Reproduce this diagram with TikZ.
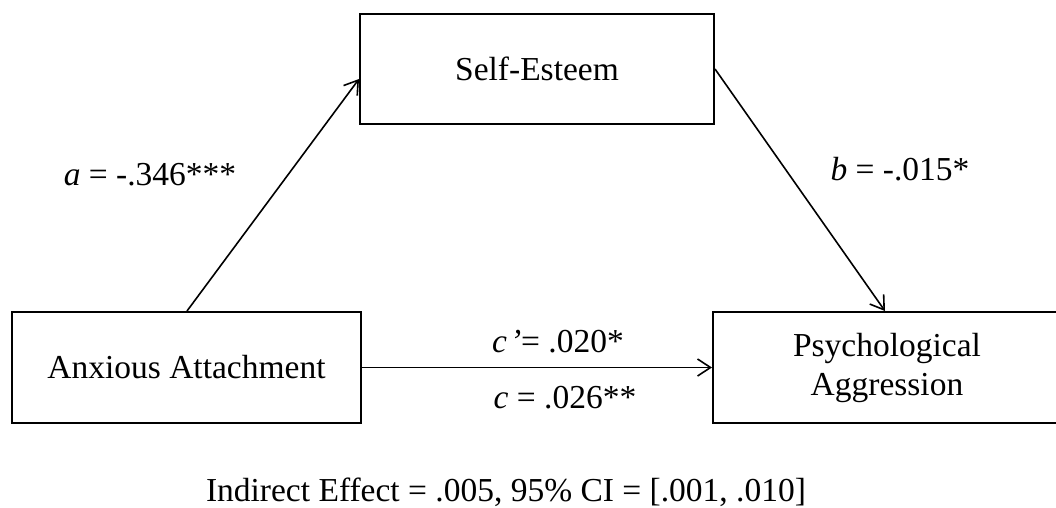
\documentclass[tikz,border=0pt]{standalone}
\usepackage{fontspec}
\setmainfont{Liberation Serif}
\usetikzlibrary{arrows.meta,calc}
\begin{document}
\begin{tikzpicture}[x=1pt,y=-1pt,
  box/.style={draw,line width=2pt,rectangle,inner sep=0pt,align=center,
    font=\fontsize{33.5}{39}\selectfont},
  lbl/.style={inner sep=0pt,font=\fontsize{33.5}{39}\selectfont},
  effect/.style={line width=1.6pt,
    -{Straight Barb[length=13pt,width=17pt,line width=1.6pt]}}]
\useasboundingbox (0,0) rectangle (1056,507);
\clip (0,0) rectangle (1056,507);

% variables of the mediation model (the outcome box runs past the right margin)
\node[box,minimum width=354pt,minimum height=110pt] (SE) at (537,69) {Self-Esteem};
\node[box,minimum width=349pt,minimum height=111pt] (AA) at (186.5,367.5) {Anxious Attachment};
\node[box,minimum width=348pt,minimum height=111pt] (PA) at (887,367.5) {Psychological\\Aggression};

% paths a, b and c/c'
\draw[effect] ($(AA.north west)+(176,0)$) -- ($(SE.north west)+(0,66)$);
\draw[effect] ($(SE.north east)+(0,56)$) -- ($(PA.north west)+(173,0)$);
\draw[effect] (AA.east) -- (PA.west);

% path coefficients
\node[lbl,anchor=base] (la) at (150,185) {\textit{a} = -.346***};
\node[lbl,anchor=base] (lb) at (900,180) {\textit{b} = -.015*};
\node[lbl,anchor=base] (lc1) at (558,352) {\textit{c}\hspace{3pt}\textit{’}= .020*};
\node[lbl,anchor=base] (lc2) at (565,408) {\textit{c} = .026**};
\node[lbl,anchor=base] (ie) at (506,501) {Indirect Effect = .005, 95\% CI = [.001, .010]};
\end{tikzpicture}
\end{document}
